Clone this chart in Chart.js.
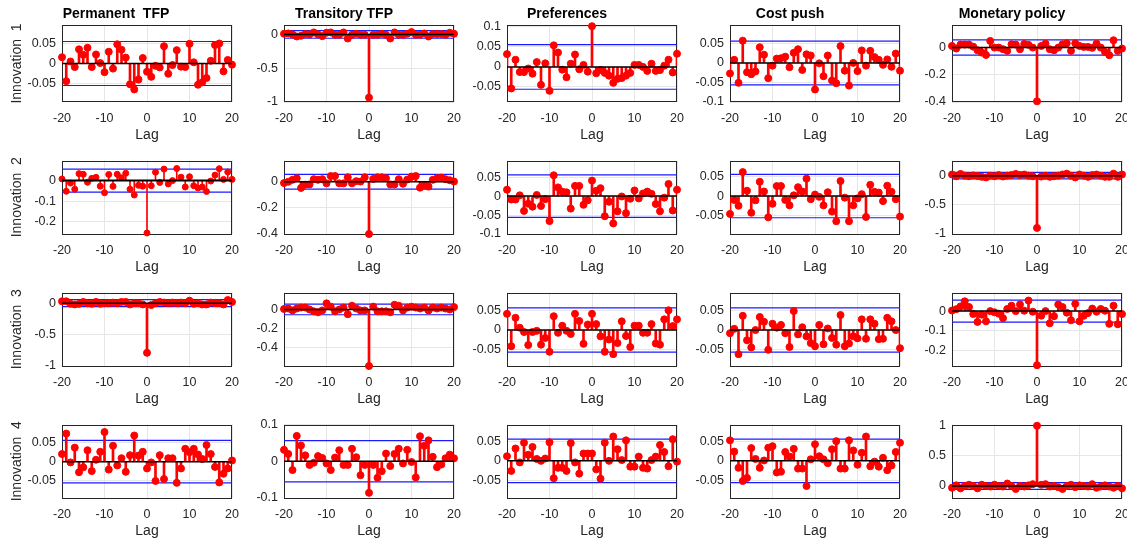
<!DOCTYPE html>
<html>
<head>
<meta charset="utf-8">
<script src="https://cdn.jsdelivr.net/npm/chart.js@4.4.0/dist/chart.umd.min.js"></script>
<style>
  html, body { margin: 0; padding: 0; background: #fff; }
  #fig { position: relative; width: 1127px; height: 542px; overflow: hidden; }
  #fig canvas { position: absolute; }
</style>
</head>
<body>
<div id="fig"></div>
<script>
const lags = [-20, -19, -18, -17, -16, -15, -14, -13, -12, -11, -10, -9, -8, -7, -6, -5, -4, -3, -2, -1,
              0, 1, 2, 3, 4, 5, 6, 7, 8, 9, 10, 11, 12, 13, 14, 15, 16, 17, 18, 19, 20];
const shockNames = ['Permanent  TFP', 'Transitory TFP', 'Preferences', 'Cost push', 'Monetary policy'];
const innovationNames = ['Innovation  1', 'Innovation  2', 'Innovation  3', 'Innovation  4'];
const xTicks = [-20, -10, 0, 10, 20];
const band = 0.056; // +/- confidence band

// Innovation 1
const inn1Perm = [0.016, -0.045, 0.005, -0.009, 0.036, 0.022, 0.040, -0.009, 0.023, 0.001, -0.022, 0.030, -0.013, 0.049, 0.035, 0.015, -0.053, -0.066, -0.041, 0.014,
                  -0.021, -0.034, -0.006, -0.010, 0.044, -0.026, -0.004, 0.034, -0.008, -0.009, 0.050, 0.003, -0.054, -0.048, -0.037, 0.007, 0.047, 0.051, -0.020, 0.009, -0.003];
const inn1Trans = [0.010, 0.015, 0.000, -0.030, -0.020, 0.005, 0.000, 0.030, 0.000, -0.025, 0.025, 0.030, -0.005, -0.005, 0.030, -0.060, -0.005, 0.010, -0.005, -0.005,
                   -0.935, -0.005, -0.005, 0.010, -0.005, -0.060, 0.030, -0.005, -0.005, 0.010, 0.035, -0.005, -0.005, 0.015, -0.030, 0.005, 0.005, 0.005, -0.005, 0.025, 0.010];
const inn1Pref = [0.032, -0.054, 0.018, -0.013, -0.013, -0.004, -0.017, 0.012, -0.045, 0.009, -0.060, 0.054, 0.036, -0.007, -0.026, 0.008, 0.031, -0.006, 0.005, -0.012,
                  0.102, -0.016, -0.008, -0.015, -0.022, -0.040, -0.030, -0.028, -0.022, -0.015, 0.005, 0.005, 0.000, -0.010, 0.008, -0.010, -0.008, 0.003, 0.018, -0.014, 0.033];
const inn1Cost = [-0.027, 0.008, -0.051, 0.057, -0.024, -0.029, -0.022, 0.040, 0.021, -0.039, -0.007, 0.011, 0.012, 0.016, -0.011, 0.026, 0.035, -0.018, 0.022, 0.019,
                  -0.068, -0.001, -0.034, 0.019, -0.045, -0.052, 0.043, -0.020, -0.058, 0.000, -0.021, 0.032, -0.007, 0.031, 0.015, 0.008, -0.005, 0.009, -0.010, 0.024, -0.020];
const inn1Mon = [0.012, -0.007, 0.022, 0.022, 0.022, 0.007, -0.020, -0.037, -0.054, 0.049, 0.000, 0.000, -0.012, -0.024, 0.024, 0.022, -0.012, 0.027, 0.020, 0.000,
                 -0.395, 0.012, 0.029, -0.012, -0.020, 0.000, 0.024, 0.032, -0.024, 0.032, 0.012, 0.005, 0.005, -0.002, 0.029, 0.000, -0.032, -0.056, 0.054, -0.024, -0.007];

// Innovation 2
const inn2Perm = [0.008, -0.052, -0.012, -0.042, 0.034, 0.031, -0.008, 0.011, 0.016, -0.027, -0.059, 0.030, -0.028, 0.031, 0.014, 0.036, -0.042, -0.070, -0.023, -0.027,
                  -0.255, -0.025, 0.041, -0.009, 0.056, -0.016, 0.000, 0.059, 0.017, -0.031, 0.019, -0.025, -0.036, -0.031, -0.053, -0.002, 0.027, 0.058, 0.006, 0.042, 0.006];
const inn2Trans = [-0.010, 0.000, 0.015, 0.027, -0.047, -0.022, -0.020, 0.020, 0.015, 0.020, -0.012, 0.044, 0.044, -0.012, -0.012, 0.035, -0.012, 0.005, 0.002, 0.035,
                   -0.400, 0.022, 0.035, 0.035, 0.027, -0.020, -0.020, 0.020, -0.015, 0.017, 0.040, 0.044, -0.045, -0.027, -0.037, 0.015, 0.027, 0.032, 0.020, 0.012, 0.002];
const inn2Pref = [0.017, -0.009, -0.009, 0.002, -0.039, -0.020, -0.028, 0.003, -0.026, -0.008, -0.066, 0.055, 0.023, 0.012, 0.010, -0.033, 0.027, 0.027, -0.023, -0.011,
                  0.041, 0.014, 0.021, -0.053, -0.015, -0.072, -0.040, -0.001, -0.045, -0.007, 0.015, -0.006, 0.007, 0.012, 0.006, -0.021, -0.040, -0.004, 0.032, -0.038, 0.017];
const inn2Cost = [-0.046, -0.010, -0.025, 0.062, 0.014, -0.043, -0.011, 0.037, 0.012, -0.055, -0.020, 0.026, 0.026, -0.010, -0.024, 0.002, 0.023, 0.012, 0.045, -0.008,
                  0.004, -0.002, -0.024, 0.010, -0.040, -0.065, 0.039, -0.004, -0.065, -0.024, -0.006, 0.005, -0.054, 0.029, 0.011, 0.009, -0.013, 0.027, 0.011, -0.008, -0.053];
const inn2Mon = [0.020, -0.010, 0.030, 0.000, -0.010, 0.005, -0.005, -0.020, -0.030, 0.000, -0.010, 0.010, -0.015, 0.000, 0.010, 0.030, 0.010, 0.020, 0.000, -0.010,
                 -0.895, -0.015, 0.000, -0.020, -0.010, 0.000, 0.020, 0.035, 0.000, -0.030, 0.020, 0.000, -0.020, 0.010, 0.020, 0.000, -0.020, -0.020, 0.035, -0.020, 0.020];

// Innovation 3
const inn3Perm = [0.030, 0.030, -0.010, -0.020, -0.010, 0.020, 0.000, -0.010, 0.020, -0.010, 0.000, 0.000, 0.010, 0.000, 0.020, 0.020, -0.020, 0.000, 0.000, -0.020,
                  -0.790, -0.030, 0.000, 0.020, 0.010, 0.000, 0.010, 0.000, 0.010, 0.000, 0.040, -0.010, 0.000, -0.020, -0.020, 0.010, 0.000, 0.000, -0.020, 0.050, 0.020];
const inn3Trans = [0.005, 0.010, -0.010, 0.010, 0.020, 0.020, 0.000, -0.020, -0.030, -0.010, 0.065, 0.030, -0.020, 0.000, 0.020, -0.050, 0.040, 0.010, -0.010, -0.010,
                   -0.600, 0.030, -0.020, -0.020, -0.020, -0.030, 0.050, 0.040, -0.010, 0.020, 0.030, 0.020, 0.010, 0.020, -0.010, 0.020, 0.010, 0.020, 0.010, 0.000, 0.025];
const inn3Pref = [0.041, -0.041, 0.031, 0.006, -0.005, -0.038, -0.005, -0.002, -0.037, -0.020, -0.055, 0.035, -0.007, 0.011, -0.002, -0.010, 0.041, 0.023, -0.035, 0.014,
                  0.041, 0.015, -0.016, -0.055, -0.024, -0.061, -0.033, 0.022, -0.015, -0.043, 0.011, 0.011, -0.007, -0.007, 0.015, -0.034, -0.037, 0.027, 0.050, 0.010, 0.027];
const inn3Cost = [-0.008, 0.003, -0.061, 0.036, -0.026, -0.044, 0.000, 0.033, 0.021, -0.050, 0.016, 0.006, 0.013, -0.008, -0.043, 0.048, -0.011, 0.007, -0.016, -0.033,
                  -0.041, 0.013, -0.036, 0.004, -0.020, -0.037, 0.038, -0.041, -0.034, -0.016, -0.021, 0.027, -0.022, 0.027, 0.016, -0.023, -0.022, 0.031, 0.022, 0.000, -0.046];
const inn3Mon = [0.003, 0.010, 0.024, 0.050, 0.021, -0.015, -0.055, -0.018, -0.052, 0.000, -0.006, -0.013, -0.036, 0.011, 0.028, 0.000, 0.034, 0.002, 0.054, -0.003,
                 -0.276, -0.023, 0.000, -0.062, -0.026, 0.034, 0.021, -0.008, -0.047, 0.037, -0.052, -0.024, -0.010, 0.013, -0.003, 0.011, 0.002, -0.065, 0.028, -0.067, -0.015];

// Innovation 4
const inn4Perm = [0.020, 0.074, -0.002, 0.037, -0.028, -0.015, 0.030, -0.025, 0.005, 0.026, 0.078, -0.021, 0.042, -0.010, 0.009, -0.027, 0.017, 0.069, 0.016, 0.026,
                  -0.018, -0.002, -0.051, 0.017, -0.046, 0.009, 0.009, -0.056, -0.018, 0.034, 0.025, 0.034, 0.019, 0.007, 0.044, 0.020, -0.014, -0.055, -0.032, -0.018, 0.003];
const inn4Trans = [0.031, 0.020, -0.024, 0.069, 0.043, 0.016, -0.010, -0.004, 0.014, 0.009, -0.006, -0.024, 0.010, 0.030, -0.010, -0.010, 0.034, 0.011, -0.038, -0.010,
                   -0.086, -0.010, -0.045, -0.027, 0.021, -0.013, 0.020, 0.034, -0.006, 0.031, -0.002, -0.044, 0.068, 0.042, 0.057, 0.012, -0.016, -0.009, 0.008, 0.018, 0.008];
const inn4Pref = [0.012, -0.026, 0.032, -0.004, 0.047, 0.016, 0.036, 0.005, 0.000, 0.006, 0.048, -0.045, -0.018, -0.018, -0.026, 0.046, -0.004, -0.033, 0.019, 0.019,
                  0.019, -0.022, -0.046, 0.047, 0.000, 0.063, 0.030, 0.002, 0.053, -0.015, -0.015, 0.011, -0.018, -0.020, 0.002, 0.011, 0.041, 0.023, -0.014, 0.056, -0.002];
const inn4Cost = [0.053, 0.024, -0.018, -0.052, -0.044, 0.033, 0.005, -0.018, 0.001, 0.034, 0.038, -0.030, -0.028, 0.023, 0.011, 0.031, -0.020, -0.020, -0.065, 0.004,
                  0.043, 0.012, 0.004, -0.006, 0.030, 0.051, -0.020, -0.020, 0.053, 0.027, -0.010, 0.021, 0.063, -0.014, -0.002, -0.015, 0.008, -0.024, -0.012, 0.023, 0.047];
const inn4Mon = [-0.030, 0.010, -0.040, 0.000, 0.020, 0.000, -0.040, 0.020, 0.000, -0.010, 0.020, 0.000, -0.010, 0.040, 0.000, -0.050, 0.000, -0.010, 0.010, 0.030,
                 1.000, 0.020, 0.030, -0.010, 0.000, -0.020, -0.050, 0.000, 0.020, -0.020, 0.010, 0.000, -0.010, 0.030, -0.030, -0.010, 0.010, -0.010, -0.030, 0.000, -0.040];

const series = [
  [inn1Perm, inn1Trans, inn1Pref, inn1Cost, inn1Mon],
  [inn2Perm, inn2Trans, inn2Pref, inn2Cost, inn2Mon],
  [inn3Perm, inn3Trans, inn3Pref, inn3Cost, inn3Mon],
  [inn4Perm, inn4Trans, inn4Pref, inn4Cost, inn4Mon]
];

// y-axis limits and tick labels per panel
const yLimits = [
  [[-0.098, 0.098], [-1, 0.14], [-0.088, 0.105], [-0.1, 0.097], [-0.4, 0.166]],
  [[-0.26, 0.098], [-0.4, 0.163], [-0.1, 0.094], [-0.098, 0.092], [-1, 0.26]],
  [[-1, 0.17], [-0.6, 0.18], [-0.091, 0.095], [-0.091, 0.095], [-0.28, 0.095]],
  [[-0.096, 0.098], [-0.1, 0.1], [-0.096, 0.094], [-0.096, 0.094], [-0.2, 1.02]]
];
const yTicks = [
  [[-0.05, 0, 0.05], [-1, -0.5, 0], [-0.05, 0, 0.05, 0.1], [-0.1, -0.05, 0, 0.05], [-0.4, -0.2, 0]],
  [[-0.2, -0.1, 0], [-0.4, -0.2, 0], [-0.1, -0.05, 0, 0.05], [-0.05, 0, 0.05], [-1, -0.5, 0]],
  [[-1, -0.5, 0], [-0.4, -0.2, 0], [-0.05, 0, 0.05], [-0.05, 0, 0.05], [-0.2, -0.1, 0]],
  [[-0.05, 0, 0.05], [-0.1, 0, 0.1], [-0.05, 0, 0.05], [-0.05, 0, 0.05], [0, 0.5, 1]]
];

// layout of the subplot grid
const plotLefts = [62, 284, 507, 730, 952];
const plotTops = [25, 157, 289, 421];
const plotW = 170, plotH = 77;
const axisH = 42;
const FONT = "'Liberation Sans', Arial, Helvetica, sans-serif";
const AXIS_COLOR = '#262626';

const boxPlugin = {
  id: 'box',
  beforeDatasetsDraw(chart) {
    const { ctx, chartArea: a } = chart;
    ctx.save();
    ctx.strokeStyle = AXIS_COLOR;
    ctx.lineWidth = 1;
    ctx.strokeRect(Math.round(a.left) + 0.5, Math.round(a.top) + 0.5,
                   Math.round(a.right - a.left) - 1, Math.round(a.bottom - a.top) - 1);
    ctx.restore();
  }
};

function fmt(v) {
  return Number(v.toFixed(3)).toString();
}

const fig = document.getElementById('fig');

for (let r = 0; r < 4; r++) {
  for (let c = 0; c < 5; c++) {
    const vals = series[r][c];
    const axisW = c === 0 ? 62 : 50;
    const padRight = axisW; // symmetric so the title centres over the axes
    const padTop = r === 0 ? 25 : 10;
    const w = axisW + plotW + padRight;
    const h = padTop + plotH + axisH;

    const canvas = document.createElement('canvas');
    canvas.width = w;
    canvas.height = h;
    canvas.style.width = w + 'px';
    canvas.style.height = h + 'px';
    canvas.style.left = (plotLefts[c] - axisW) + 'px';
    canvas.style.top = (plotTops[r] - padTop) + 'px';
    fig.appendChild(canvas);

    const points = lags.map((l, i) => ({ x: l, y: vals[i] }));
    const thin = (r === 1 && c === 0);

    new Chart(canvas.getContext('2d'), {
      type: 'bar',
      data: {
        datasets: [
          {
            type: 'line',
            data: lags.map(l => ({ x: l, y: 0 })),
            borderColor: '#000000',
            borderWidth: thin ? 2 : 1.5,
            pointRadius: 0,
            order: 0
          },
          {
            type: 'scatter',
            data: points,
            pointRadius: thin ? 3 : 3.5,
            pointBackgroundColor: '#ff0000',
            pointBorderColor: '#ff0000',
            pointBorderWidth: 1,
            clip: false,
            order: 1
          },
          {
            type: 'bar',
            data: points,
            backgroundColor: '#ff0000',
            barThickness: thin ? 1 : 2,
            order: 2
          },
          {
            type: 'line',
            data: lags.map(l => ({ x: l, y: band })),
            borderColor: '#1a1aff',
            borderWidth: 1.2,
            pointRadius: 0,
            order: 3
          },
          {
            type: 'line',
            data: lags.map(l => ({ x: l, y: -band })),
            borderColor: '#1a1aff',
            borderWidth: 1.2,
            pointRadius: 0,
            order: 3
          }
        ]
      },
      options: {
        responsive: false,
        animation: false,
        events: [],
        layout: { padding: { top: r === 0 ? 0 : padTop, right: padRight, left: 0, bottom: 0 } },
        plugins: {
          legend: { display: false },
          tooltip: { enabled: false },
          title: {
            display: r === 0,
            text: shockNames[c],
            color: '#000000',
            font: { family: FONT, size: 14, weight: 'bold', lineHeight: 1 },
            padding: { top: 7, bottom: 4 }
          }
        },
        scales: {
          x: {
            type: 'linear',
            min: -20,
            max: 20,
            offset: false,
            afterBuildTicks: s => { s.ticks = xTicks.map(v => ({ value: v })); },
            afterFit: s => { s.height = axisH; },
            grid: { color: '#e6e6e6', drawTicks: false, offset: false },
            border: { display: false },
            ticks: {
              color: AXIS_COLOR,
              padding: 9,
              maxRotation: 0,
              autoSkip: false,
              font: { family: FONT, size: 12.5 },
              callback: v => fmt(v)
            },
            title: {
              display: true,
              text: 'Lag',
              color: AXIS_COLOR,
              font: { family: FONT, size: 14, lineHeight: 1 },
              padding: { top: 0, bottom: 2 }
            }
          },
          y: {
            type: 'linear',
            min: yLimits[r][c][0],
            max: yLimits[r][c][1],
            afterBuildTicks: s => { s.ticks = yTicks[r][c].map(v => ({ value: v })); },
            afterFit: s => { s.width = axisW; },
            grid: { color: '#e6e6e6', drawTicks: false },
            border: { display: false },
            ticks: {
              color: AXIS_COLOR,
              padding: 6,
              autoSkip: false,
              font: { family: FONT, size: 12.5 },
              callback: v => fmt(v)
            },
            title: {
              display: c === 0,
              text: innovationNames[r],
              color: AXIS_COLOR,
              font: { family: FONT, size: 14, lineHeight: 1 },
              padding: { top: 10, bottom: 0 }
            }
          }
        }
      },
      plugins: [boxPlugin]
    });
  }
}
</script>
</body>
</html>
